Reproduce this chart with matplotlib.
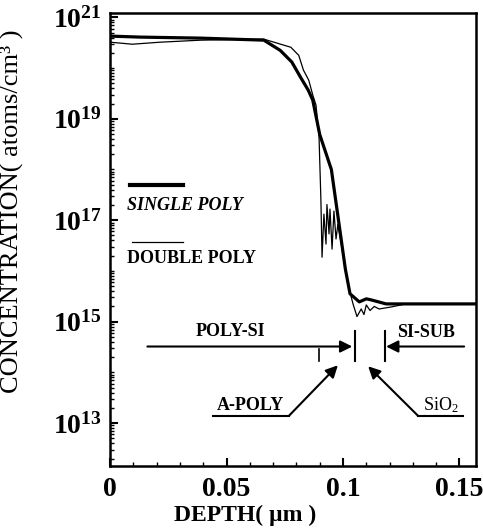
import numpy as np
import matplotlib
matplotlib.use("Agg")
import matplotlib.pyplot as plt
from matplotlib.ticker import FixedLocator, FixedFormatter, MultipleLocator, LogLocator, NullFormatter

plt.rcParams["font.family"] = ["Liberation Serif", "DejaVu Serif"]
plt.rcParams["mathtext.fontset"] = "custom"
plt.rcParams["mathtext.rm"] = "Liberation Serif"
plt.rcParams["mathtext.bf"] = "Liberation Serif:bold"
plt.rcParams["mathtext.it"] = "Liberation Serif:italic"

# depth (um) and log10 concentration (atoms/cm3)
single_depth = [0.000, 0.013, 0.039, 0.066, 0.073, 0.078, 0.082, 0.085, 0.087,
                0.090, 0.095, 0.098, 0.101, 0.103, 0.107, 0.110, 0.112, 0.1185, 0.158]
single_log = [20.63, 20.61, 20.59, 20.55, 20.35, 20.12, 19.80, 19.57, 19.37,
              18.69, 18.00, 17.02, 16.04, 15.55, 15.39, 15.45, 15.43, 15.35, 15.35]

double_depth = [0.000, 0.0095, 0.0215, 0.039, 0.066, 0.0776, 0.081, 0.083, 0.0853,
                0.087, 0.0884, 0.0897, 0.0905, 0.091, 0.0918, 0.0927, 0.0931, 0.094,
                0.0944, 0.0953, 0.0961, 0.097, 0.0978, 0.100, 0.1026, 0.1043, 0.106,
                0.1078, 0.109, 0.110, 0.1116, 0.1134, 0.1155, 0.1207, 0.127, 0.158]
double_log = [20.51, 20.47, 20.51, 20.55, 20.57, 20.41, 20.25, 19.96, 19.76,
              19.47, 19.27, 18.65, 17.41, 16.27, 17.12, 16.53, 17.31, 16.73,
              17.22, 16.43, 17.18, 16.63, 16.92, 16.33, 15.65, 15.35, 15.10,
              15.25, 15.14, 15.33, 15.22, 15.30, 15.25, 15.29, 15.35, 15.35]

# layer boundaries (um)
poly_end = 0.1052
sub_start = 0.118
apoly_mark = 0.0897

y_major = [13, 15, 17, 19, 21]
x_major = [0, 0.05, 0.1, 0.15]
x_labels = ["0", "0.05", "0.1", "0.15"]

fig = plt.figure(figsize=(4.83, 5.31), dpi=100)
ax = fig.add_axes([0.228, 0.122, 0.757, 0.853])

ax.plot(single_depth, 10 ** np.array(single_log), color="k", lw=2.3)
ax.plot(double_depth, 10 ** np.array(double_log), color="k", lw=0.9)

ax.set_yscale("log")
ax.set_xlim(0, 0.157)
ax.set_ylim(10 ** 12.15, 10 ** 21.08)

ax.yaxis.set_major_locator(FixedLocator([10.0 ** e for e in y_major]))
ax.yaxis.set_major_formatter(FixedFormatter([r"$\mathbf{10^{%d}}$" % e for e in y_major]))
ax.yaxis.set_minor_locator(LogLocator(base=10, subs=np.arange(1, 10), numticks=30))
ax.yaxis.set_minor_formatter(NullFormatter())
ax.xaxis.set_major_locator(FixedLocator(x_major))
ax.xaxis.set_major_formatter(FixedFormatter(x_labels))
ax.xaxis.set_minor_locator(MultipleLocator(0.01))

ax.tick_params(which="both", direction="in", right=False, top=False)
ax.tick_params(which="major", length=6, width=1.5)
ax.tick_params(which="minor", length=3, width=1.0)
ax.tick_params(axis="y", labelsize=20, pad=6)
ax.tick_params(axis="x", labelsize=20, pad=8)
for lbl in ax.get_xticklabels():
    lbl.set_fontweight("bold")
for sp in ax.spines.values():
    sp.set_linewidth(1.8)

ax.set_ylabel("CONCENTRATION( atoms/cm\u00b3 )", fontsize=19)
ax.yaxis.set_label_coords(-0.238, 0.563)
ax.set_xlabel("DEPTH( \u00b5m )", fontsize=17, fontweight="bold")
ax.xaxis.set_label_coords(0.369, -0.086)

# legend drawn by hand: line above its label
tr = ax.transAxes
ax.plot([0.055, 0.199], [0.620, 0.620], color="k", lw=3.0, transform=tr)
ax.text(0.047, 0.576, "SINGLE POLY", transform=tr, fontsize=13,
        fontweight="bold", style="italic", va="center", ha="left")
ax.plot([0.060, 0.199], [0.494, 0.494], color="k", lw=0.9, transform=tr)
ax.text(0.047, 0.459, "DOUBLE POLY", transform=tr, fontsize=13,
        fontweight="bold", va="center", ha="left")

# layer annotations
arrow = dict(arrowstyle="-|>", color="k", lw=1.5, mutation_scale=18, shrinkA=0, shrinkB=0)
y_arr = 10 ** 14.51
ax.annotate("", xy=(poly_end - 0.0012, y_arr), xytext=(0.016, y_arr), arrowprops=arrow)
ax.annotate("", xy=(sub_start + 0.0005, y_arr), xytext=(0.152, y_arr), arrowprops=arrow)
for xb in [poly_end, sub_start]:
    ax.plot([xb, xb], [10 ** 14.82, 10 ** 14.22], color="k", lw=1.5)
ax.plot([apoly_mark, apoly_mark], [10 ** 14.47, 10 ** 14.22], color="k", lw=1.2)
ax.text(0.0517, 10 ** 14.8, "POLY-SI", fontsize=13, fontweight="bold", ha="center", va="center")
ax.text(0.1358, 10 ** 14.78, "SI-SUB", fontsize=13, fontweight="bold", ha="center", va="center")

y_base = 10 ** 13.14
ax.plot([0.044, 0.0767], [y_base, y_base], color="k", lw=1.5)
ax.annotate("", xy=(0.0978, 10 ** 14.14), xytext=(0.0767, y_base), arrowprops=arrow)
ax.text(0.0603, 10 ** 13.35, "A-POLY", fontsize=13, fontweight="bold", ha="center", va="center")
ax.plot([0.1323, 0.1517], [y_base, y_base], color="k", lw=1.5)
ax.annotate("", xy=(0.1108, 10 ** 14.12), xytext=(0.1323, y_base), arrowprops=arrow)
ax.text(0.1422, 10 ** 13.35, r"SiO$_\mathrm{2}$", fontsize=13, ha="center", va="center")

fig.savefig("out.png", dpi=100)
